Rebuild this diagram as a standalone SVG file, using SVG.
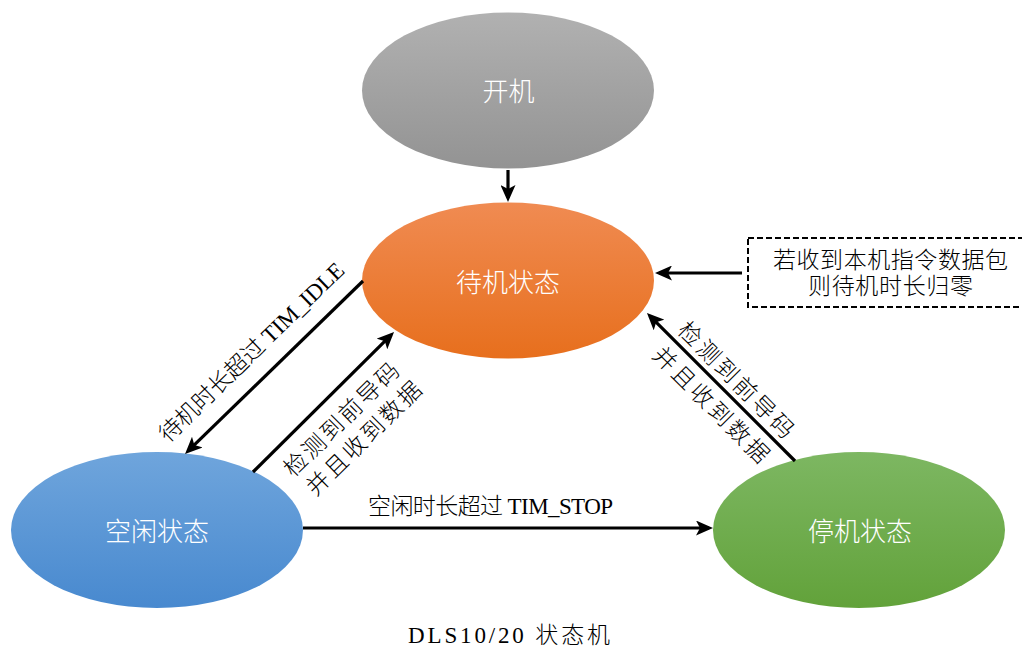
<svg xmlns="http://www.w3.org/2000/svg" width="1022" height="650" viewBox="0 0 1022 650">
<style>
.node-label{font-family:"Noto Sans CJK SC","Noto Sans",sans-serif;font-size:26px;fill:#ffffff;font-weight:300;text-anchor:middle}
.lbl{font-family:"Liberation Serif","Noto Sans CJK SC",serif;font-size:23px;fill:#000000;text-anchor:middle;font-weight:300}
.conn{stroke:#000000;stroke-width:3.2;fill:none;marker-end:url(#arrow)}
</style>
<defs>
<linearGradient id="gGray" x1="0" y1="0" x2="0" y2="1">
<stop offset="0" stop-color="#b1b1b1"/><stop offset="1" stop-color="#939393"/>
</linearGradient>
<linearGradient id="gOrange" x1="0" y1="0" x2="0" y2="1">
<stop offset="0" stop-color="#f08b52"/><stop offset="1" stop-color="#e76f1d"/>
</linearGradient>
<linearGradient id="gBlue" x1="0" y1="0" x2="0" y2="1">
<stop offset="0" stop-color="#6fa5dc"/><stop offset="1" stop-color="#4889cf"/>
</linearGradient>
<linearGradient id="gGreen" x1="0" y1="0" x2="0" y2="1">
<stop offset="0" stop-color="#7db762"/><stop offset="1" stop-color="#62a23a"/>
</linearGradient>
<marker id="arrow" viewBox="0 0 17 15" refX="13" refY="7.5" markerWidth="17" markerHeight="15" markerUnits="userSpaceOnUse" orient="auto">
<path d="M0,0 L17,7.5 L0,15 L4,7.5 z" fill="#000000"/>
</marker>
</defs>
<rect width="1022" height="650" fill="#ffffff"/>

<g id="node-poweron">
<ellipse cx="508" cy="90.5" rx="146" ry="78" fill="url(#gGray)"/>
<text class="node-label" x="508.5" y="101">开机</text>
</g>
<g id="node-standby">
<ellipse cx="508" cy="280.5" rx="146" ry="78" fill="url(#gOrange)"/>
<text class="node-label" x="508" y="292">待机状态</text>
</g>
<g id="node-idle">
<ellipse cx="157" cy="530" rx="146" ry="78" fill="url(#gBlue)"/>
<text class="node-label" x="157" y="541">空闲状态</text>
</g>
<g id="node-stop">
<ellipse cx="859" cy="530" rx="146" ry="78" fill="url(#gGreen)"/>
<text class="node-label" x="860" y="541">停机状态</text>
</g>
<g id="note">
<rect x="748" y="238" width="290" height="69" fill="none" stroke="#000000" stroke-width="2" stroke-dasharray="6,3"/>
<text class="lbl" x="890.5" y="268" textLength="235">若收到本机指令数据包</text>
<text class="lbl" x="890.5" y="294" textLength="165">则待机时长归零</text>
</g>

<g id="connectors">
<line class="conn" x1="508" y1="170" x2="508" y2="198"/>
<line class="conn" x1="363" y1="281" x2="187.9" y2="451.2"/>
<line class="conn" x1="253" y1="472" x2="391.2" y2="334.8"/>
<line class="conn" x1="795" y1="461" x2="649.8" y2="315.8"/>
<line class="conn" x1="742" y1="273" x2="659" y2="273"/>
<line class="conn" x1="303" y1="528" x2="709" y2="528"/>
</g>

<g id="labels">
<text class="lbl" transform="translate(251.5,352) rotate(-44)" x="0" y="8" textLength="247">待机时长超过 TIM_IDLE</text>
<text class="lbl" transform="translate(341.5,419.5) rotate(-44.5)" x="0" y="8" textLength="151">检测到前导码</text>
<text class="lbl" transform="translate(364,438.5) rotate(-44.5)" x="0" y="8" textLength="151">并且收到数据</text>
<text class="lbl" transform="translate(736,380) rotate(45)" x="0" y="8" textLength="153">检测到前导码</text>
<text class="lbl" transform="translate(711,405) rotate(45)" x="0" y="8" textLength="153">并且收到数据</text>
<text class="lbl" x="490.5" y="514" textLength="245">空闲时长超过 TIM_STOP</text>
<text class="lbl" x="509" y="643" textLength="202">DLS10/20 状态机</text>
</g>
</svg>
